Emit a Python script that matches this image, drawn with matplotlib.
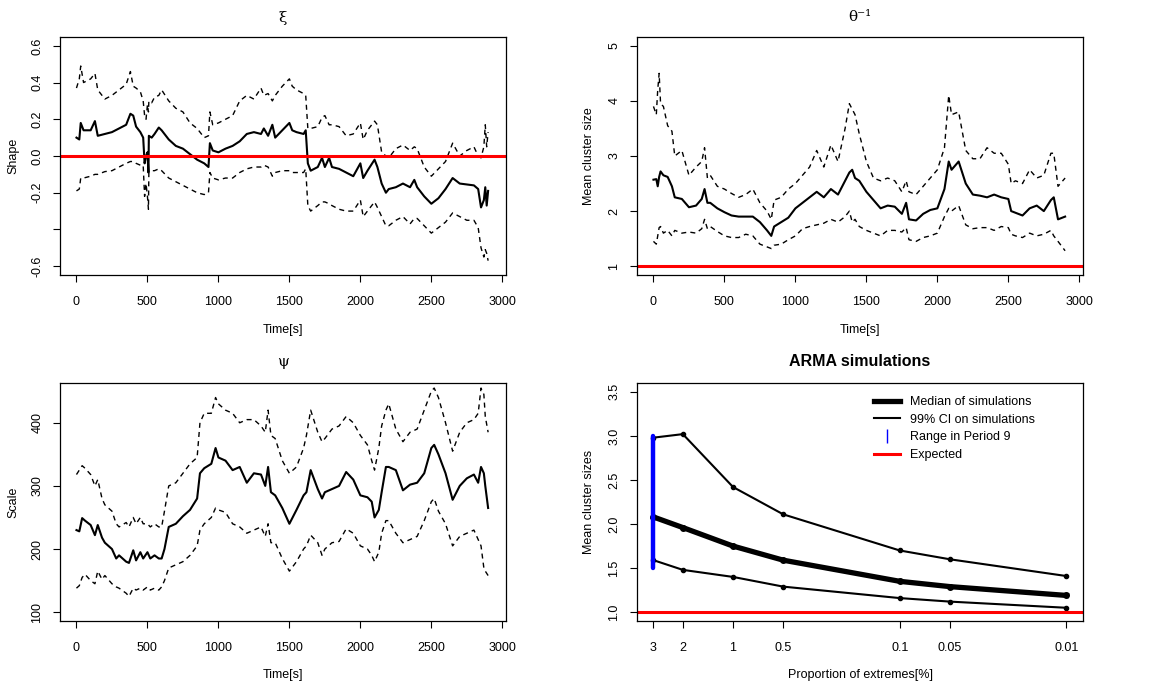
import numpy as np
import matplotlib
matplotlib.use("Agg")
import matplotlib.pyplot as plt
from matplotlib.lines import Line2D
from matplotlib.ticker import NullLocator

plt.rcParams['font.family'] = ['Liberation Sans', 'DejaVu Sans']

# ---------------- data: xi (shape) ----------------
t_xi = [0, 20, 30, 50, 100, 130, 150, 200, 250, 300,
        350, 380, 400, 420, 450, 470, 480, 490, 500, 507,
        510, 530, 550, 580, 600, 650, 700, 750, 800, 850,
        900, 930, 940, 960, 1000, 1050, 1100, 1150, 1200, 1250,
        1300, 1320, 1350, 1380, 1400, 1450, 1500, 1520, 1550, 1600,
        1615, 1630, 1650, 1700, 1730, 1750, 1780, 1800, 1850, 1900,
        1950, 2000, 2020, 2050, 2100, 2120, 2150, 2180, 2200, 2250,
        2300, 2350, 2380, 2400, 2450, 2500, 2550, 2600, 2650, 2700,
        2750, 2800, 2830, 2850, 2870, 2880, 2890, 2900]
xi_med = [0.10, 0.09, 0.18, 0.14, 0.14, 0.19, 0.11, 0.12, 0.13, 0.15,
          0.17, 0.23, 0.22, 0.16, 0.13, 0.10, -0.04, 0.00, 0.02, -0.09,
          0.11, 0.10, 0.12, 0.155, 0.14, 0.09, 0.055, 0.04, 0.01, -0.02,
          -0.04, -0.06, 0.07, 0.03, 0.02, 0.04, 0.055, 0.08, 0.12, 0.13,
          0.12, 0.15, 0.11, 0.17, 0.10, 0.14, 0.18, 0.14, 0.13, 0.12,
          0.14, -0.04, -0.08, -0.06, -0.01, -0.06, -0.01, -0.06, -0.07, -0.09,
          -0.11, -0.04, -0.12, -0.08, -0.02, -0.06, -0.15, -0.20, -0.18, -0.17,
          -0.15, -0.17, -0.13, -0.17, -0.22, -0.26, -0.23, -0.18, -0.12, -0.15,
          -0.155, -0.16, -0.18, -0.28, -0.24, -0.17, -0.27, -0.19]
xi_up = [0.37, 0.42, 0.49, 0.40, 0.42, 0.45, 0.36, 0.31, 0.33, 0.36,
         0.39, 0.46, 0.38, 0.37, 0.35, 0.30, 0.22, 0.20, 0.28, 0.24,
         0.30, 0.29, 0.32, 0.33, 0.36, 0.30, 0.26, 0.24, 0.18, 0.15,
         0.10, 0.11, 0.24, 0.17, 0.18, 0.20, 0.22, 0.30, 0.33, 0.31,
         0.37, 0.33, 0.34, 0.30, 0.33, 0.38, 0.42, 0.38, 0.36, 0.34,
         0.33, 0.15, 0.15, 0.16, 0.21, 0.22, 0.17, 0.17, 0.16, 0.11,
         0.12, 0.18, 0.09, 0.14, 0.19, 0.17, 0.02, 0.00, -0.01, 0.04,
         0.06, 0.03, 0.05, 0.04, -0.06, -0.11, -0.07, -0.03, 0.07, 0.00,
         0.03, 0.05, 0.00, -0.01, 0.05, 0.17, 0.05, 0.13]
xi_lo = [-0.19, -0.18, -0.12, -0.12, -0.11, -0.10, -0.10, -0.085, -0.08, -0.06,
         -0.04, -0.03, -0.03, -0.04, -0.05, -0.05, -0.22, -0.15, -0.22, -0.29,
         -0.09, -0.08, -0.08, -0.07, -0.08, -0.12, -0.14, -0.16, -0.18, -0.20,
         -0.21, -0.20, -0.09, -0.12, -0.13, -0.12, -0.12, -0.09, -0.07, -0.06,
         -0.06, -0.05, -0.06, -0.11, -0.09, -0.08, -0.08, -0.09, -0.09, -0.09,
         -0.07, -0.27, -0.30, -0.27, -0.25, -0.25, -0.26, -0.27, -0.29, -0.30,
         -0.30, -0.24, -0.33, -0.30, -0.25, -0.28, -0.33, -0.38, -0.38, -0.35,
         -0.33, -0.37, -0.34, -0.34, -0.38, -0.42, -0.39, -0.36, -0.31, -0.33,
         -0.35, -0.35, -0.39, -0.50, -0.55, -0.51, -0.53, -0.57]

# ---------------- data: theta^-1 (mean cluster size) ----------------
t_th = [0, 20, 30, 40, 50, 70, 100, 130, 150, 200,
        250, 300, 340, 360, 380, 400, 450, 500, 550, 600,
        650, 700, 750, 800, 830, 850, 900, 950, 1000, 1050,
        1100, 1150, 1200, 1250, 1300, 1350, 1380, 1400, 1420, 1450,
        1500, 1550, 1600, 1650, 1700, 1750, 1780, 1800, 1850, 1900,
        1950, 2000, 2050, 2080, 2100, 2150, 2200, 2250, 2300, 2350,
        2400, 2450, 2500, 2520, 2550, 2600, 2650, 2700, 2750, 2800,
        2820, 2850, 2900]
th_med = [2.57, 2.58, 2.45, 2.62, 2.72, 2.65, 2.62, 2.45, 2.25, 2.22,
          2.07, 2.10, 2.22, 2.40, 2.15, 2.15, 2.05, 1.98, 1.92, 1.90,
          1.90, 1.90, 1.80, 1.65, 1.55, 1.72, 1.80, 1.88, 2.05, 2.15,
          2.25, 2.35, 2.25, 2.40, 2.30, 2.55, 2.70, 2.75, 2.60, 2.55,
          2.35, 2.20, 2.05, 2.10, 2.08, 1.95, 2.15, 1.85, 1.83, 1.95,
          2.02, 2.05, 2.40, 2.90, 2.75, 2.90, 2.50, 2.30, 2.28, 2.25,
          2.30, 2.25, 2.22, 2.00, 1.97, 1.92, 2.05, 2.10, 2.00, 2.20,
          2.25, 1.85, 1.90]
th_up = [3.90, 3.75, 4.20, 4.50, 3.95, 3.90, 3.55, 3.45, 3.00, 3.10,
         2.65, 2.80, 2.90, 3.15, 2.60, 2.65, 2.45, 2.40, 2.32, 2.25,
         2.30, 2.40, 2.15, 2.00, 1.85, 2.20, 2.25, 2.40, 2.50, 2.65,
         2.80, 3.10, 2.80, 3.20, 2.90, 3.50, 3.95, 3.85, 3.75, 3.40,
         2.90, 2.60, 2.55, 2.60, 2.55, 2.35, 2.55, 2.35, 2.30, 2.45,
         2.60, 2.75, 3.15, 4.10, 3.75, 3.80, 3.10, 2.95, 2.95, 3.15,
         3.05, 3.05, 2.85, 2.50, 2.55, 2.50, 2.75, 2.60, 2.65, 3.05,
         3.05, 2.45, 2.60]
th_lo = [1.45, 1.40, 1.55, 1.70, 1.72, 1.60, 1.65, 1.55, 1.65, 1.60,
         1.62, 1.60, 1.68, 1.85, 1.68, 1.72, 1.63, 1.55, 1.52, 1.52,
         1.58, 1.55, 1.40, 1.35, 1.32, 1.38, 1.40, 1.48, 1.55, 1.68,
         1.72, 1.75, 1.78, 1.85, 1.80, 1.90, 2.00, 1.80, 1.85, 1.72,
         1.65, 1.60, 1.55, 1.65, 1.65, 1.62, 1.70, 1.48, 1.45, 1.52,
         1.55, 1.60, 1.90, 2.05, 2.00, 2.10, 1.75, 1.68, 1.70, 1.70,
         1.65, 1.72, 1.70, 1.58, 1.55, 1.52, 1.60, 1.55, 1.58, 1.65,
         1.55, 1.45, 1.28]

# ---------------- data: psi (scale) ----------------
t_psi = [0, 20, 40, 60, 100, 130, 150, 180, 200, 250,
         280, 300, 350, 370, 400, 420, 450, 470, 500, 520,
         550, 580, 600, 620, 650, 700, 750, 800, 850, 870,
         900, 950, 980, 1000, 1050, 1100, 1150, 1200, 1250, 1300,
         1330, 1350, 1370, 1400, 1450, 1500, 1550, 1600, 1620, 1650,
         1700, 1730, 1750, 1800, 1850, 1900, 1950, 2000, 2050, 2080,
         2100, 2130, 2150, 2180, 2200, 2250, 2300, 2350, 2400, 2450,
         2500, 2520, 2550, 2600, 2650, 2700, 2750, 2800, 2830, 2850,
         2870, 2880, 2900]
psi_med = [230, 228, 249, 245, 238, 222, 238, 218, 210, 200,
           185, 190, 180, 178, 198, 182, 195, 185, 195, 185,
           190, 185, 185, 200, 235, 240, 252, 262, 280, 320,
           328, 335, 360, 345, 340, 325, 330, 305, 320, 318,
           300, 330, 290, 285, 265, 240, 262, 285, 290, 325,
           295, 280, 290, 295, 300, 322, 310, 285, 282, 275,
           250, 262, 290, 330, 330, 325, 293, 302, 305, 320,
           360, 365, 350, 320, 278, 300, 312, 318, 305, 330,
           320, 300, 265]
psi_up = [318, 325, 332, 328, 318, 300, 310, 280, 270, 260,
          240, 235, 242, 235, 250, 240, 250, 240, 240, 235,
          240, 235, 235, 260, 300, 305, 320, 335, 345, 400,
          415, 415, 440, 430, 420, 415, 400, 405, 405, 395,
          385, 420, 380, 375, 340, 320, 330, 360, 380, 420,
          385, 370, 375, 390, 395, 410, 400, 380, 365, 340,
          325, 360, 395, 420, 430, 390, 370, 385, 390, 420,
          450, 455, 440, 400, 355, 385, 400, 405, 415, 455,
          445, 410, 385]
psi_lo = [138, 142, 155, 160, 150, 145, 165, 152, 158, 145,
          140, 138, 130, 125, 138, 135, 138, 135, 140, 135,
          138, 135, 140, 150, 170, 175, 180, 190, 205, 230,
          240, 250, 265, 262, 258, 240, 235, 225, 230, 235,
          220, 240, 210, 210, 185, 165, 180, 200, 205, 222,
          210, 190, 200, 210, 212, 232, 225, 205, 200, 190,
          180, 195, 225, 245, 245, 225, 210, 215, 220, 245,
          275, 280, 260, 240, 205, 220, 225, 230, 215, 205,
          170, 165, 158]

# ---------------- data: ARMA simulations ----------------
prop_ext = [3, 2, 1, 0.5, 0.1, 0.05, 0.01]
prop_labels = ["3", "2", "1", "0.5", "0.1", "0.05", "0.01"]
sim_median = [2.08, 1.96, 1.75, 1.59, 1.35, 1.29, 1.19]
sim_ci_up = [2.98, 3.02, 2.42, 2.11, 1.70, 1.60, 1.41]
sim_ci_lo = [1.59, 1.48, 1.40, 1.29, 1.16, 1.12, 1.05]
period9_range = [1.5, 3.0]
expected = 1.0

# ---------------- figure ----------------
W, H = 1162, 688
fig = plt.figure(figsize=(W / 100, H / 100), dpi=100)

def axes_px(x0, y0, x1, y1):
    return fig.add_axes([x0 / W, 1 - y1 / H, (x1 - x0) / W, (y1 - y0) / H])

FS = 9
DASH = (3.6, 3.0)

def style(ax):
    for s in ax.spines.values():
        s.set_linewidth(0.9)
    ax.tick_params(axis='both', direction='out', length=5, width=0.8,
                   labelsize=FS, colors='black')
    ax.tick_params(axis='x', pad=10)
    ax.tick_params(axis='y', pad=7)

def rot_y(ax):
    for lbl in ax.get_yticklabels():
        lbl.set_rotation(90)
        lbl.set_va('center')
        lbl.set_ha('right')

def ts_panel(ax, t, med, up, lo):
    ax.plot(t, up, color='black', lw=1.0, dashes=DASH)
    ax.plot(t, lo, color='black', lw=1.0, dashes=DASH)
    ax.plot(t, med, color='black', lw=1.5)
    ax.set_xlim(-116, 3026)
    ax.set_xticks([0, 500, 1000, 1500, 2000, 2500, 3000])
    ax.set_xticklabels(["0", "500", "1000", "1500", "2000", "2500", "3000"])

# Top-left: xi
ax1 = axes_px(60, 37, 506, 275)
style(ax1)
ts_panel(ax1, t_xi, xi_med, xi_up, xi_lo)
ax1.axhline(0.0, color='#FF0000', lw=2.2)
ax1.set_ylim(-0.648, 0.648)
ax1.set_yticks([-0.6, -0.4, -0.2, 0.0, 0.2, 0.4, 0.6])
ax1.set_yticklabels(["-0.6", "", "-0.2", "0.0", "0.2", "0.4", "0.6"])
rot_y(ax1)

# Top-right: theta^-1
ax2 = axes_px(637, 37, 1083, 275)
style(ax2)
ts_panel(ax2, t_th, th_med, th_up, th_lo)
ax2.axhline(1.0, color='#FF0000', lw=2.2)
ax2.set_ylim(0.84, 5.16)
ax2.set_yticks([1, 2, 3, 4, 5])
ax2.set_yticklabels(["1", "2", "3", "4", "5"])
rot_y(ax2)

# Bottom-left: psi
ax3 = axes_px(60, 383, 506, 621)
style(ax3)
ts_panel(ax3, t_psi, psi_med, psi_up, psi_lo)
ax3.set_ylim(86, 463)
ax3.set_yticks([100, 200, 300, 400])
ax3.set_yticklabels(["100", "200", "300", "400"])
rot_y(ax3)

# Bottom-right: ARMA simulations
ax4 = axes_px(637, 383, 1083, 621)
style(ax4)
ax4.set_xscale('log')
ax4.plot(prop_ext, sim_ci_up, color='black', lw=1.5, marker='o', ms=3)
ax4.plot(prop_ext, sim_ci_lo, color='black', lw=1.5, marker='o', ms=3)
ax4.plot(prop_ext, sim_median, color='black', lw=3.8, marker='o', ms=4)
ax4.plot([prop_ext[0], prop_ext[0]], period9_range, color='#0000FF', lw=3.2,
         solid_capstyle='round')
ax4.axhline(expected, color='#FF0000', lw=2.2)
ax4.set_xlim(3.767, 0.00796)
ax4.xaxis.set_minor_locator(NullLocator())
ax4.set_xticks(prop_ext)
ax4.set_xticklabels(prop_labels)
ax4.set_ylim(0.9, 3.6)
ax4.set_yticks([1.0, 1.5, 2.0, 2.5, 3.0, 3.5])
ax4.set_yticklabels(["1.0", "1.5", "2.0", "2.5", "3.0", "3.5"])
rot_y(ax4)

handles = [Line2D([], [], color='black', lw=3.8),
           Line2D([], [], color='black', lw=1.5),
           Line2D([], [], color='#0000FF', marker='|', linestyle='None',
                  markersize=10, markeredgewidth=1.0),
           Line2D([], [], color='#FF0000', lw=2.2)]
labels = ["Median of simulations", "99% CI on simulations",
          "Range in Period 9", "Expected"]
ax4.legend(handles, labels, loc='upper left', frameon=False,
           bbox_to_anchor=(874 / W, 1 - 396 / H), bbox_transform=fig.transFigure,
           borderpad=0, borderaxespad=0, fontsize=FS, handlelength=2.1,
           handletextpad=0.75, labelspacing=0.45)

# Titles
fig.text((60 + 506) / 2 / W, 1 - 18 / H, "ξ", family='DejaVu Serif',
         fontsize=11, ha='center', va='center')
fig.text((637 + 1083) / 2 / W, 1 - 17 / H, "θ⁻¹", family='DejaVu Serif',
         fontsize=11, ha='center', va='center')
fig.text((60 + 506) / 2 / W, 1 - 362 / H, "ψ", family='DejaVu Serif',
         fontsize=11, ha='center', va='center')
fig.text((637 + 1083) / 2 / W, 1 - 361 / H, "ARMA simulations",
         fontsize=11.5, fontweight='bold', ha='center', va='center')

# Axis labels
fig.text((60 + 506) / 2 / W, 1 - 330 / H, "Time[s]", fontsize=FS, ha='center', va='center')
fig.text((637 + 1083) / 2 / W, 1 - 330 / H, "Time[s]", fontsize=FS, ha='center', va='center')
fig.text((60 + 506) / 2 / W, 1 - 675 / H, "Time[s]", fontsize=FS, ha='center', va='center')
fig.text((637 + 1083) / 2 / W, 1 - 675 / H, "Proportion of extremes[%]", fontsize=FS,
         ha='center', va='center')
fig.text(13 / W, 1 - 156 / H, "Shape", fontsize=FS, rotation=90, ha='center', va='center')
fig.text(589 / W, 1 - 156 / H, "Mean cluster size", fontsize=FS, rotation=90,
         ha='center', va='center')
fig.text(13 / W, 1 - 502 / H, "Scale", fontsize=FS, rotation=90, ha='center', va='center')
fig.text(589 / W, 1 - 502 / H, "Mean cluster sizes", fontsize=FS, rotation=90,
         ha='center', va='center')

fig.savefig("out.png", dpi=100)
